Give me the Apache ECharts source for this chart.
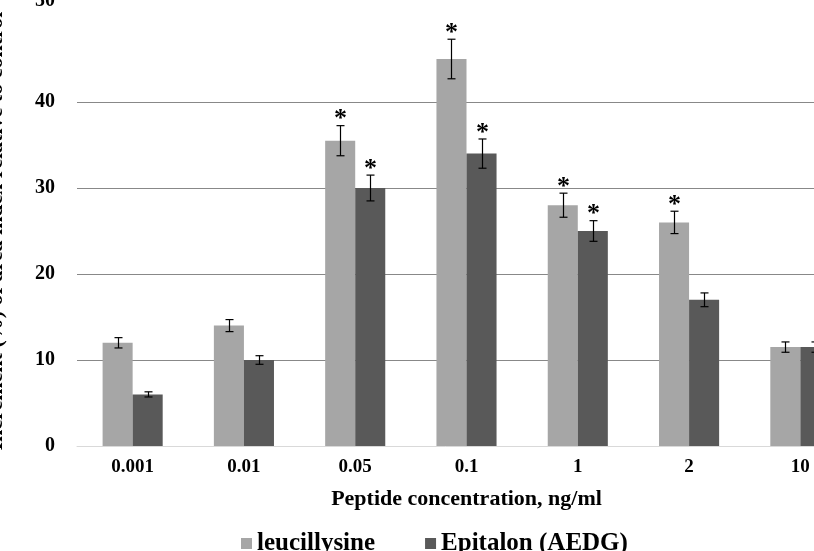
<!DOCTYPE html>
<html>
<head>
<meta charset="utf-8">
<script src="https://cdn.jsdelivr.net/npm/echarts@6/dist/echarts.min.js"></script>
<style>
html,body{margin:0;padding:0;background:#fff;overflow:hidden;}
#chart{width:814px;height:551px;}
</style>
</head>
<body>
<div id="chart"></div>
<script>
const categories = ['0.001', '0.01', '0.05', '0.1', '1', '2', '10'];
const leuValues = [12, 14, 35.5, 45, 28, 26, 11.5];
const leuErrors = [0.6, 0.7, 1.75, 2.3, 1.4, 1.3, 0.6];
const leuStars = [false, false, true, true, true, true, false];
const epiValues = [6, 10, 30, 34, 25, 17, 11.5];
const epiErrors = [0.3, 0.5, 1.5, 1.7, 1.2, 0.8, 0.6];
const epiStars = [false, false, true, true, true, false, false];
const seriesNames = ['leucillysine', 'Epitalon (AEDG)'];
const yAxisName = 'Increment (%) of area index relative to control';
const xAxisName = 'Peptide concentration, ng/ml';

const FONT = '"Liberation Serif", "Times New Roman", serif';
const CAT_GAP = 0.46;

function errData(vals, errs, stars) {
  return vals.map((v, i) => [i, v - errs[i], v + errs[i], stars[i] ? 1 : 0]);
}

function makeErrorRender(sign) {
  return function (params, api) {
    const i = api.value(0);
    const lowP = api.coord([i, api.value(1)]);
    const highP = api.coord([i, api.value(2)]);
    const band = api.size([1, 0])[0];
    const barW = band * (1 - CAT_GAP) / 2;
    const x = Math.round(lowP[0] + sign * barW / 2) + 0.5;
    const cap = 4;
    const style = { stroke: '#000', lineWidth: 1.2 };
    const children = [
      { type: 'line', shape: { x1: x, y1: highP[1], x2: x, y2: lowP[1] }, style },
      { type: 'line', shape: { x1: x - cap, y1: highP[1], x2: x + cap, y2: highP[1] }, style },
      { type: 'line', shape: { x1: x - cap, y1: lowP[1], x2: x + cap, y2: lowP[1] }, style }
    ];
    if (api.value(3)) {
      children.push({
        type: 'text',
        style: {
          text: '*', x: x, y: highP[1] - 6,
          align: 'center', verticalAlign: 'middle',
          font: 'bold 26px ' + FONT, fill: '#000'
        }
      });
    }
    return { type: 'group', children };
  };
}

const chart = echarts.init(document.getElementById('chart'), null, { renderer: 'canvas' });
chart.setOption({
  animation: false,
  backgroundColor: '#fff',
  grid: { left: 77, right: -42, top: 16, bottom: 105, containLabel: false, outerBoundsMode: 'none' },
  legend: {
    data: seriesNames,
    left: 236, top: 526,
    itemWidth: 11, itemHeight: 11, itemGap: 50,
    icon: 'rect',
    textStyle: { fontFamily: FONT, fontWeight: 'bold', fontSize: 25, color: '#000' }
  },
  xAxis: {
    type: 'category',
    data: categories,
    name: xAxisName,
    nameLocation: 'middle',
    nameGap: 42,
    nameTextStyle: { fontFamily: FONT, fontWeight: 'bold', fontSize: 22, color: '#000' },
    axisLine: { show: true, lineStyle: { color: '#d9d9d9', width: 1 } },
    axisTick: { show: false },
    axisLabel: { fontFamily: FONT, fontWeight: 'bold', fontSize: 19, color: '#000', margin: 12 }
  },
  yAxis: {
    type: 'value',
    min: 0, max: 50, interval: 10,
    name: yAxisName,
    nameLocation: 'middle',
    nameGap: 70,
    nameTextStyle: { fontFamily: FONT, fontWeight: 'bold', fontSize: 22, color: '#000' },
    axisLine: { show: false },
    axisTick: { show: false },
    splitLine: { show: true, showMaxLine: false, showMinLine: false, lineStyle: { color: '#888888', width: 1 } },
    axisLabel: {
      fontFamily: FONT, fontWeight: 'bold', fontSize: 20, color: '#000', margin: 22,
      formatter: function (v) { return v === 50 ? '{top|50}' : String(v); },
      rich: { top: { fontFamily: FONT, fontWeight: 'bold', fontSize: 20, color: '#000', padding: [0, 0, 30, 0] } }
    }
  },
  series: [
    {
      name: seriesNames[0], type: 'bar', data: leuValues,
      barCategoryGap: (CAT_GAP * 100) + '%', barGap: '0%',
      itemStyle: { color: '#a6a6a6' }, z: 2
    },
    {
      name: seriesNames[1], type: 'bar', data: epiValues,
      barCategoryGap: (CAT_GAP * 100) + '%', barGap: '0%',
      itemStyle: { color: '#595959' }, z: 2
    },
    {
      type: 'custom', name: 'leuErr', renderItem: makeErrorRender(-1),
      data: errData(leuValues, leuErrors, leuStars),
      encode: { x: 0, y: [1, 2] }, z: 5, silent: true
    },
    {
      type: 'custom', name: 'epiErr', renderItem: makeErrorRender(1),
      data: errData(epiValues, epiErrors, epiStars),
      encode: { x: 0, y: [1, 2] }, z: 5, silent: true
    }
  ]
});
</script>
</body>
</html>
